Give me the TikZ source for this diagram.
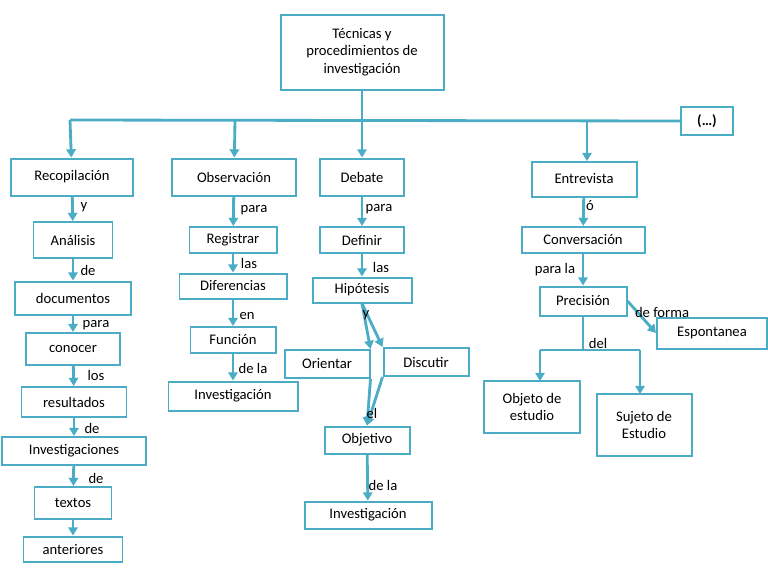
\documentclass[tikz,border=0pt]{standalone}
\usepackage{fontspec}
\setmainfont{Carlito}
\usetikzlibrary{arrows.meta}
\definecolor{azul}{HTML}{4BACC6}
\begin{document}
\begin{tikzpicture}[x=0.03cm,y=-0.03cm]
      \tikzset{
        every node/.style={font=\fontsize{12.5}{15}\selectfont},
        caja/.style={draw=azul,line width=1.7pt,fill=white,inner sep=2pt,align=center},
        flecha/.style={draw=azul,line width=2.4pt,-{Triangle[length=7pt,width=8pt]}},
        linea/.style={draw=azul,line width=2.4pt},
        etq/.style={inner sep=0pt}
      }
      \useasboundingbox (0,0) rectangle (768,576);

      % raiz
      \node[caja,minimum width=163*0.03cm,minimum height=75*0.03cm] (raiz) at (362,52)
        {Técnicas y\\procedimientos de\\investigación};
      \node[caja,minimum width=52*0.03cm,minimum height=28*0.03cm,font=\fontsize{12.5}{15}\selectfont\bfseries] (otros) at (707,121) {(…)};
      \coordinate (bus) at (362,120);
      \coordinate (busizq) at (70,120);

      % ramas
      \node[caja,minimum width=122*0.03cm,minimum height=37*0.03cm] (recop) at (72,177) {Recopilación};
      \node[caja,minimum width=124*0.03cm,minimum height=37*0.03cm] (obs) at (234,177) {Observación};
      \node[caja,minimum width=84*0.03cm,minimum height=37*0.03cm] (deb) at (362,177) {Debate};
      \node[caja,minimum width=105*0.03cm,minimum height=35*0.03cm] (ent) at (584,179) {Entrevista};

      % recopilacion
      \node[caja,minimum width=79*0.03cm,minimum height=36*0.03cm] (anal) at (73,240) {Análisis};
      \node[caja,minimum width=116*0.03cm,minimum height=33*0.03cm] (docs) at (73,298) {documentos};
      \node[caja,minimum width=94*0.03cm,minimum height=32*0.03cm] (cono) at (73,349) {conocer};
      \node[caja,minimum width=105*0.03cm,minimum height=30*0.03cm] (resu) at (74,402) {resultados};
      \node[caja,minimum width=144*0.03cm,minimum height=28*0.03cm] (invs) at (74,451) {Investigaciones};
      \node[caja,minimum width=77*0.03cm,minimum height=32*0.03cm] (text) at (73,503) {textos};
      \node[caja,minimum width=99*0.03cm,minimum height=25*0.03cm] (ante) at (73,549) {anteriores};

      % observacion
      \node[caja,minimum width=87*0.03cm,minimum height=26*0.03cm] (regi) at (233,240) {Registrar};
      \node[caja,minimum width=107*0.03cm,minimum height=25*0.03cm] (dife) at (233,286) {Diferencias};
      \node[caja,minimum width=85*0.03cm,minimum height=26*0.03cm] (func) at (233,340) {Función};
      \node[caja,minimum width=129*0.03cm,minimum height=29*0.03cm] (invo) at (233,396) {Investigación};

      % debate
      \node[caja,minimum width=84*0.03cm,minimum height=26*0.03cm] (defi) at (362,240) {Definir};
      \node[caja,minimum width=99*0.03cm,minimum height=25*0.03cm] (hipo) at (362,290) {Hipótesis};
      \node[caja,minimum width=85*0.03cm,minimum height=28*0.03cm] (orie) at (327,364) {Orientar};
      \node[caja,minimum width=85*0.03cm,minimum height=28*0.03cm] (disc) at (426,362) {Discutir};
      \node[caja,minimum width=85*0.03cm,minimum height=27*0.03cm] (obje) at (367,440) {Objetivo};
      \node[caja,minimum width=127*0.03cm,minimum height=27*0.03cm] (invd) at (368,515) {Investigación};

      % entrevista
      \node[caja,minimum width=123*0.03cm,minimum height=26*0.03cm] (conv) at (583,240) {Conversación};
      \node[caja,minimum width=87*0.03cm,minimum height=29*0.03cm] (prec) at (583,301) {Precisión};
      \node[caja,minimum width=110*0.03cm,minimum height=31*0.03cm] (espo) at (712,333) {Espontanea};
      \node[caja,minimum width=96*0.03cm,minimum height=52*0.03cm] (objt) at (532,407) {Objeto de\\estudio};
      \node[caja,minimum width=95*0.03cm,minimum height=62*0.03cm] (suje) at (644,425) {Sujeto de\\Estudio};
      \coordinate (bifu) at (583,350);

      % conectores
      \draw[linea] (raiz) -- (bus);
      \draw[linea] (busizq) -- (otros.west);
      \draw[flecha] (busizq) -- (recop);
      \draw[flecha] (235,120) -- (obs);
      \draw[flecha] (bus) -- (deb);
      \draw[flecha] (587,120) -- (587,161);
      \foreach \a/\b in {recop/anal,anal/docs,docs/cono,cono/resu,resu/invs,invs/text,text/ante,
                         obs/regi,regi/dife,dife/func,func/invo,
                         deb/defi,defi/hipo,obje/invd,ent/conv,conv/prec}
        \draw[flecha] (\a) -- (\b);
      \draw[flecha] (hipo.south) -- (orie.north east);
      \draw[flecha] (hipo.south) -- (disc.north west);
      \draw[flecha] (orie.south east) -- (obje.north);
      \draw[flecha] (disc.south west) -- (obje.north);
      \draw[flecha] (prec.east) -- (espo.west);
      \draw[linea] (prec) -- (bifu);
      \draw[linea] (540,350) -- (640,350);
      \draw[flecha] (540,350) -- (540,381);
      \draw[flecha] (640,350) -- (640,394);

      % etiquetas
      \node[etq] (l1) at (84,207) {y};
      \node[etq] (l2) at (88,270) {de};
      \node[etq] (l3) at (96,325) {para};
      \node[etq] (l4) at (96,375) {los};
      \node[etq] (l5) at (92,428) {de};
      \node[etq] (l6) at (96,478) {de};
      \node[etq] (l7) at (254,210) {para};
      \node[etq] (l8) at (249,263) {las};
      \node[etq] (l9) at (247,316) {en};
      \node[etq] (l10) at (253,368) {de la};
      \node[etq] (l11) at (379,209) {para};
      \node[etq] (l12) at (381,267) {las};
      \node[etq] (l13) at (366,315) {y};
      \node[etq] (l14) at (372,413) {el};
      \node[etq] (l15) at (383,485) {de la};
      \node[etq] (l16) at (590,206) {ó};
      \node[etq] (l17) at (555,270) {para la};
      \node[etq] (l18) at (662,312) {de forma};
      \node[etq] (l19) at (598,343) {del};
\end{tikzpicture}
\end{document}
